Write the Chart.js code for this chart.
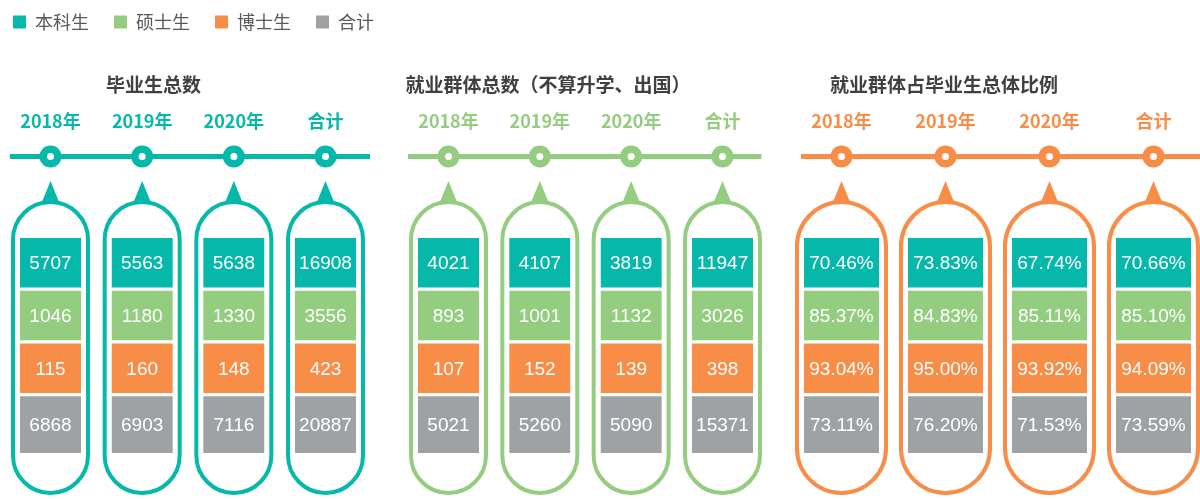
<!DOCTYPE html>
<html>
<head>
<meta charset="utf-8">
<script src="https://cdn.jsdelivr.net/npm/chart.js@4.4.1/dist/chart.umd.min.js"></script>
<style>
  html, body { margin: 0; padding: 0; width: 1200px; height: 499px; overflow: hidden; background: #ffffff; }
  .panel { position: absolute; }
  .panel canvas { display: block; }
</style>
</head>
<body>
<div class="panel" id="p1"><canvas id="c1"></canvas></div>
<div class="panel" id="p2"><canvas id="c2"></canvas></div>
<div class="panel" id="p3"><canvas id="c3"></canvas></div>
<script>
// ---------------- DATA ----------------
const columns = ['2018年', '2019年', '2020年', '合计'];
const seriesNames = ['本科生', '硕士生', '博士生', '合计'];
const panelTitles = ['毕业生总数', '就业群体总数（不算升学、出国）', '就业群体占毕业生总体比例'];

// 毕业生总数
const gradUndergrad = [5707, 5563, 5638, 16908];
const gradMaster    = [1046, 1180, 1330, 3556];
const gradDoctor    = [115, 160, 148, 423];
const gradTotal     = [6868, 6903, 7116, 20887];

// 就业群体总数
const empUndergrad = [4021, 4107, 3819, 11947];
const empMaster    = [893, 1001, 1132, 3026];
const empDoctor    = [107, 152, 139, 398];
const empTotal     = [5021, 5260, 5090, 15371];

// 就业群体占毕业生总体比例 (%)
const rateUndergrad = [70.46, 73.83, 67.74, 70.66];
const rateMaster    = [85.37, 84.83, 85.11, 85.10];
const rateDoctor    = [93.04, 95.00, 93.92, 94.09];
const rateTotal     = [73.11, 76.20, 71.53, 73.59];

// ---------------- STYLE / LAYOUT ----------------
const TEAL = '#05B8AA', GREEN = '#94CC80', ORANGE = '#F78D47', GRAY = '#9FA2A5';
const SERIES_COLORS = [TEAL, GREEN, ORANGE, GRAY];
const ROW_WEIGHTS = [1, 1, 1, 1.136];       // relative row heights (cell layout)
const TOTAL_WEIGHT = ROW_WEIGHTS.reduce((a, b) => a + b, 0);
const PAGE_TOP = -12, PAGE_H = 512;          // container placement
const ROW_TOP_PX = 236.3, ROW_UNIT_PX = 52.8; // where the cell stack sits on the page

const PANELS = [
  { left: -12, width: 430, c0: 50.5,  step: 91.67, cell: 61, color: TEAL,   titleX: 153.5, lineL: 40.5, lineR: 44.5 },
  { left: 390, width: 400, c0: 448.5, step: 91.33, cell: 61, color: GREEN,  titleX: 548,   lineL: 40.5, lineR: 39 },
  { left: 780, width: 420, c0: 841.5, step: 104,   cell: 75, color: ORANGE, titleX: 944,   lineL: 40.5, lineR: 60 }
];

const CJK = "'Noto Sans CJK SC', 'Noto Sans', sans-serif";
const LATIN = "'Liberation Sans', Arial, sans-serif";

const decorPlugin = {
  id: 'panelDecor',
  beforeDatasetsDraw(chart, args, o) {
    const ctx = chart.ctx, xs = chart.scales.x, ys = chart.scales.y;
    const stackTop = ys.getPixelForValue(0);
    const stackBottom = ys.getPixelForValue(TOTAL_WEIGHT);
    const capTop = stackTop - 34.3;
    const capBottom = stackBottom + 38.3;
    const lineY = stackTop - 79.8;
    const yearY = stackTop - 115.3;
    const titleY = stackTop - 151.3;
    ctx.save();
    // title
    ctx.font = 'bold 19px ' + CJK;
    ctx.fillStyle = '#404040';
    ctx.textAlign = 'center';
    ctx.textBaseline = 'middle';
    ctx.fillText(o.title, o.titleX - o.left, titleY);
    // timeline
    const first = xs.getPixelForValue(0), last = xs.getPixelForValue(columns.length - 1);
    ctx.strokeStyle = o.color;
    ctx.lineWidth = 5;
    ctx.beginPath();
    ctx.moveTo(first - o.lineL, lineY);
    ctx.lineTo(last + o.lineR, lineY);
    ctx.stroke();
    columns.forEach((c, i) => {
      const cx = xs.getPixelForValue(i);
      // year label
      ctx.font = 'bold 18px ' + CJK;
      ctx.fillStyle = o.color;
      ctx.fillText(c, cx, yearY);
      // node circle
      ctx.beginPath(); ctx.arc(cx, lineY, 11, 0, Math.PI * 2); ctx.fillStyle = o.color; ctx.fill();
      ctx.beginPath(); ctx.arc(cx, lineY, 3.5, 0, Math.PI * 2); ctx.fillStyle = '#ffffff'; ctx.fill();
      // capsule
      const half = o.cell / 2 + 7;
      ctx.beginPath();
      ctx.roundRect(cx - half, capTop, half * 2, capBottom - capTop, half);
      ctx.lineWidth = 4;
      ctx.strokeStyle = o.color;
      ctx.stroke();
      // pointer triangle
      ctx.beginPath();
      ctx.moveTo(cx, capTop - 21);
      ctx.lineTo(cx - 9, capTop + 1);
      ctx.lineTo(cx + 9, capTop + 1);
      ctx.closePath();
      ctx.fillStyle = o.color;
      ctx.fill();
    });
    ctx.restore();
  },
  afterDatasetsDraw(chart, args, o) {
    const ctx = chart.ctx;
    ctx.save();
    ctx.font = '19px ' + LATIN;
    ctx.fillStyle = '#ffffff';
    ctx.textAlign = 'center';
    ctx.textBaseline = 'middle';
    chart.data.datasets.forEach((ds, s) => {
      const meta = chart.getDatasetMeta(s);
      meta.data.forEach((bar, i) => {
        ctx.fillText(o.format(ds.values[i]), bar.x, (bar.y + bar.base) / 2 + 1);
      });
    });
    ctx.restore();
  }
};

function makePanel(idx, rows, format) {
  const P = PANELS[idx];
  const div = document.getElementById('p' + (idx + 1));
  div.style.left = P.left + 'px';
  div.style.top = PAGE_TOP + 'px';
  div.style.width = P.width + 'px';
  div.style.height = PAGE_H + 'px';
  const canvas = div.querySelector('canvas');
  canvas.width = P.width;
  canvas.height = PAGE_H;

  const datasets = seriesNames.map((name, s) => ({
    label: name,
    data: columns.map((c, i) => ({ x: i, y: ROW_WEIGHTS[s] })),
    values: rows[s],
    backgroundColor: SERIES_COLORS[s],
    borderColor: '#ffffff',
    borderWidth: { top: 2, bottom: 2, left: 0, right: 0 },
    borderSkipped: false,
    barThickness: P.cell
  }));

  const chart = new Chart(canvas, {
    type: 'bar',
    data: { datasets },
    options: {
      responsive: false,
      animation: false,
      devicePixelRatio: 1,
      layout: { padding: 0 },
      scales: {
        x: { type: 'linear', display: false, stacked: true, offset: false, grid: { offset: false },
             min: (P.left - P.c0) / P.step, max: (P.left + P.width - P.c0) / P.step },
        y: { type: 'linear', display: false, stacked: true, reverse: true, min: 0, max: 8 }
      },
      plugins: {
        tooltip: { enabled: false },
        legend: {
          display: idx === 0,
          position: 'top',
          align: 'start',
          labels: {
            boxWidth: 13, boxHeight: 13, padding: 25, color: '#595959',
            font: { family: CJK, size: 18 },
            generateLabels(ch) {
              const items = Chart.defaults.plugins.legend.labels.generateLabels(ch);
              items.forEach(it => { it.lineWidth = 0; it.strokeStyle = 'rgba(0,0,0,0)'; });
              return items;
            }
          }
        },
        panelDecor: {
          title: panelTitles[idx], titleX: P.titleX, left: P.left, color: P.color,
          cell: P.cell, lineL: P.lineL, lineR: P.lineR, format
        }
      }
    },
    plugins: [decorPlugin]
  });

  // fit the scales so the cells land on the page grid
  const a = chart.chartArea;
  chart.options.scales.x.min = (P.left + a.left - P.c0) / P.step;
  chart.options.scales.x.max = (P.left + a.right - P.c0) / P.step;
  chart.options.scales.y.min = (PAGE_TOP + a.top - ROW_TOP_PX) / ROW_UNIT_PX;
  chart.options.scales.y.max = (PAGE_TOP + a.bottom - ROW_TOP_PX) / ROW_UNIT_PX;
  chart.update('none');
  return chart;
}

makePanel(0, [gradUndergrad, gradMaster, gradDoctor, gradTotal], v => String(v));
makePanel(1, [empUndergrad, empMaster, empDoctor, empTotal], v => String(v));
makePanel(2, [rateUndergrad, rateMaster, rateDoctor, rateTotal], v => v.toFixed(2) + '%');
</script>
</body>
</html>
